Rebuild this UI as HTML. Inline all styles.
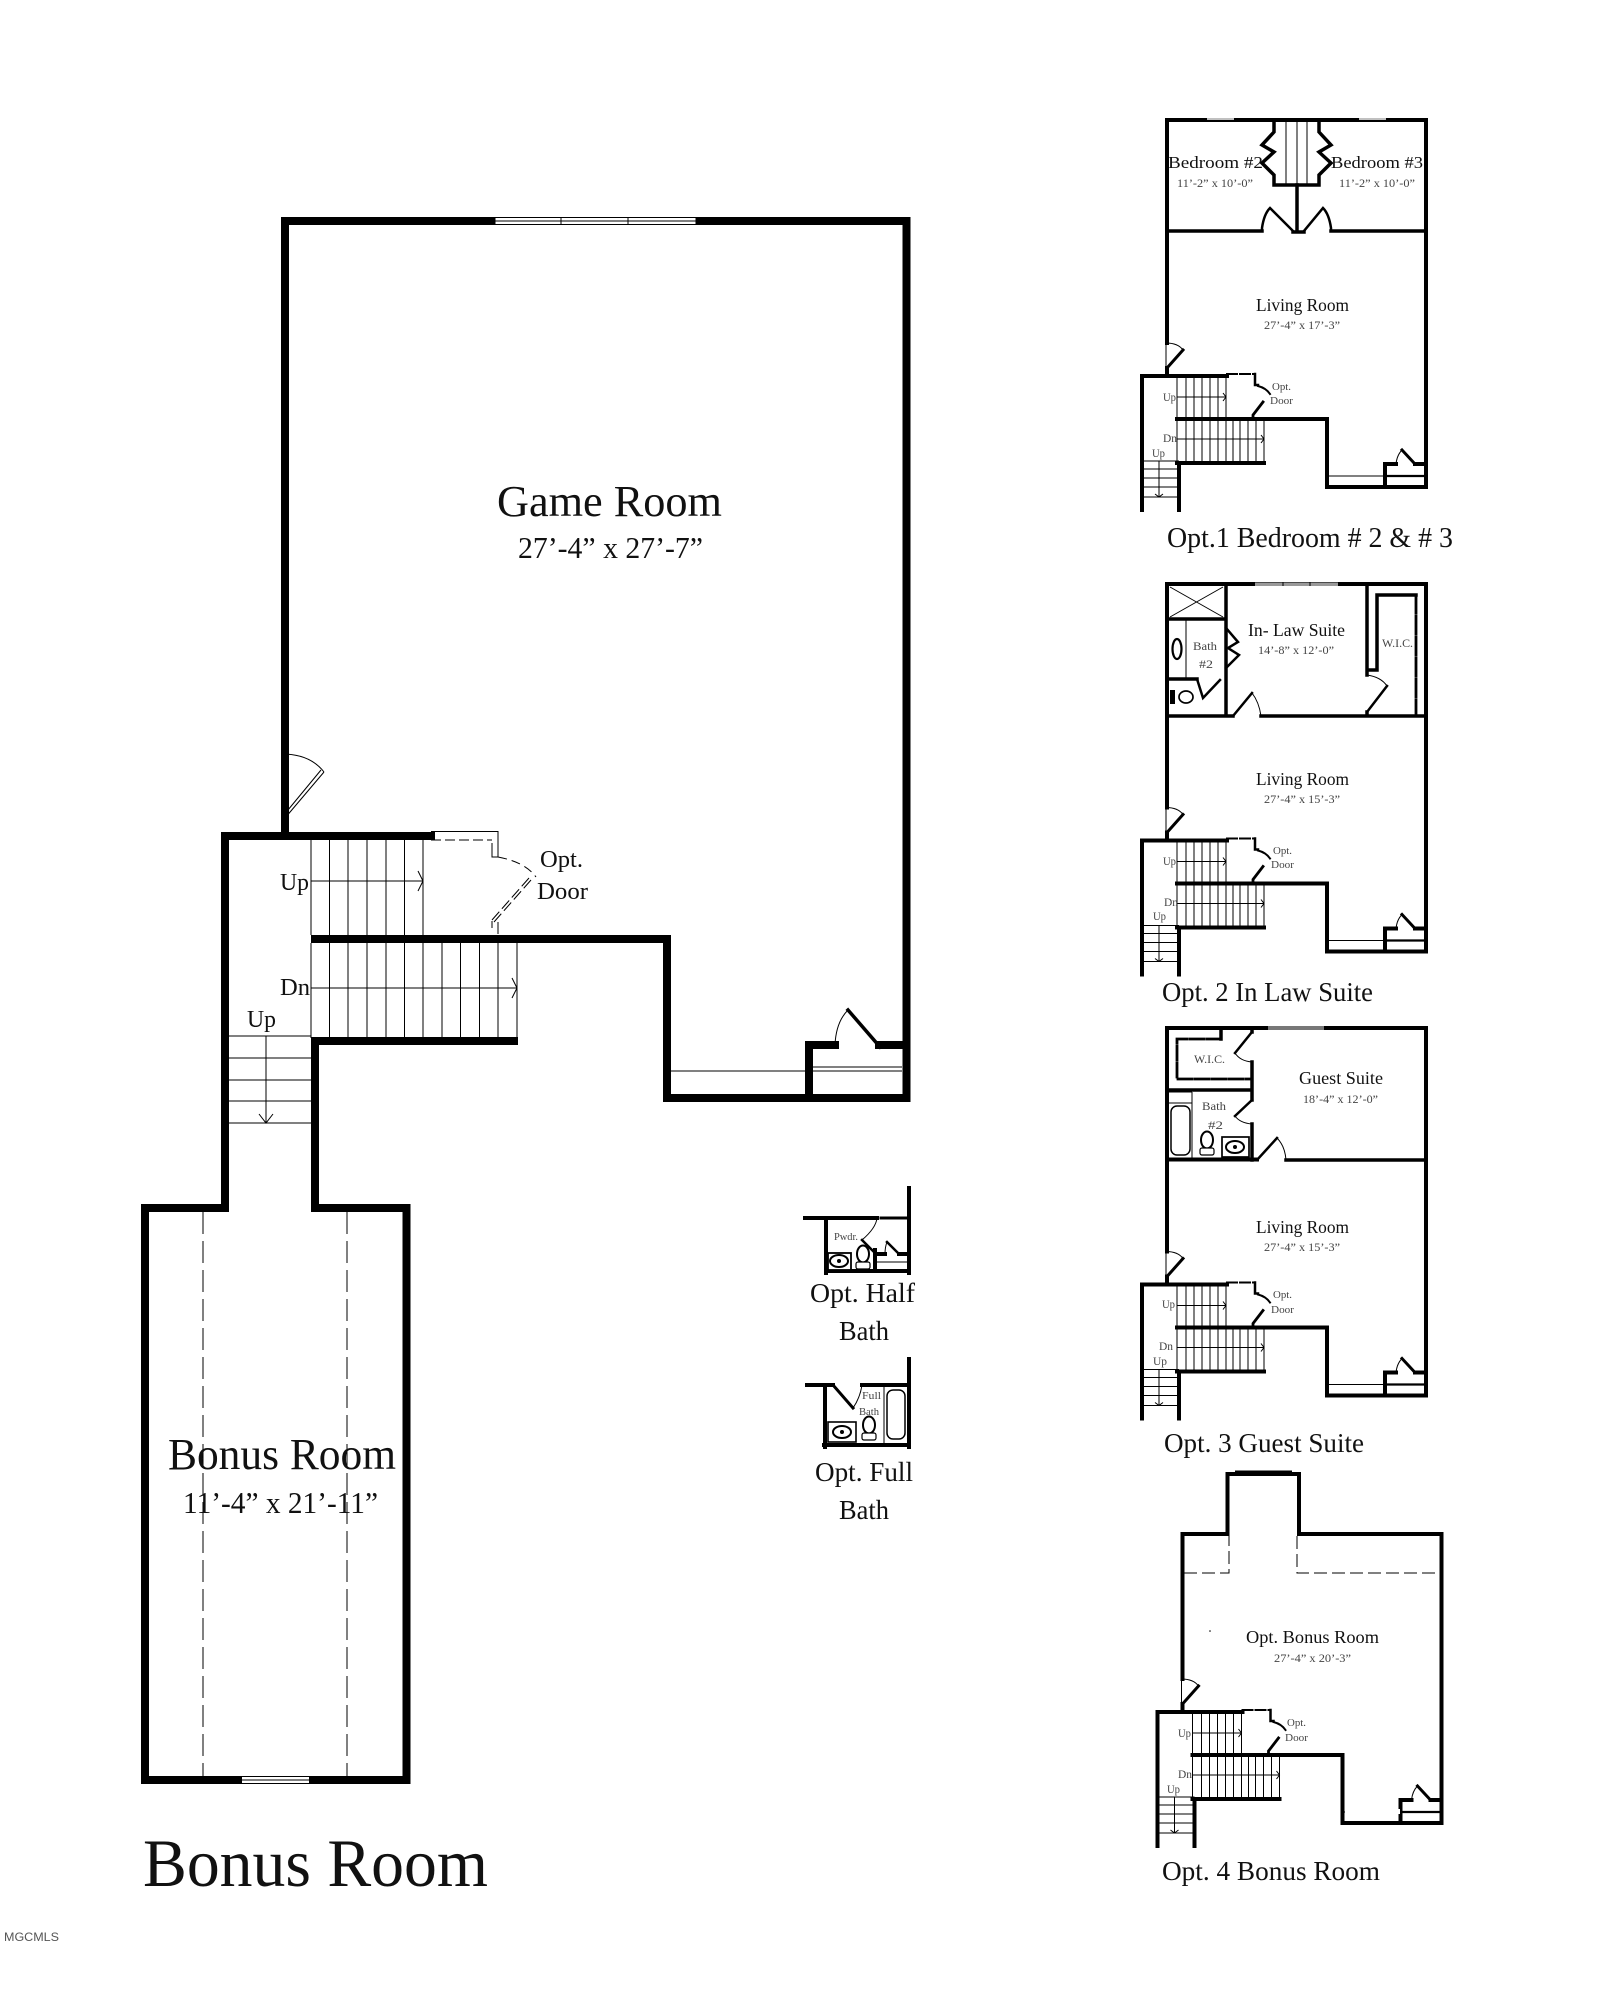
<!DOCTYPE html>
<html><head><meta charset="utf-8"><title>Bonus Room floor plan</title>
<style>
html,body{margin:0;padding:0;background:#fff}
svg{display:block}
text{font-family:"Liberation Serif",serif;fill:#111}
.w{fill:none;stroke:#000;stroke-linecap:square;stroke-linejoin:miter}
.t{fill:none;stroke:#000;stroke-width:1}
.g{fill:#444}
</style></head><body>
<svg width="1608" height="2000" viewBox="0 0 1608 2000" xmlns="http://www.w3.org/2000/svg">
<rect width="1608" height="2000" fill="#fff"/>
<defs>
<g id="b">
 <path class="w" stroke-width="4" d="M1167 368V376M1142 510V376H1227M1177 419H1327V487H1426M1177 463H1264M1179 463V510M1385 487V464H1396M1415 464H1426"/>
 <path class="w" stroke-width="3" stroke-linecap="butt" d="M1167 368L1183 350M1402 450L1415 464"/>
 <path class="t" stroke-width="1.300" d="M1166 343V368M1166 343Q1178 343 1183 350M1396 464Q1397 455 1402 450"/>
 <path class="t" stroke-width="1.500" d="M1177 378V419M1186 378V419M1194 378V419M1202 378V419M1210 378V419M1218 378V419M1226 378V419M1177 419V463M1186 419V463M1194 419V463M1202 419V463M1210 419V463M1218 419V463M1226 419V463M1233 419V463M1240 419V463M1248 419V463M1256 419V463M1264 419V463"/>
 <path class="t" stroke-width="1.500" d="M1177 397H1226M1223 393L1226 397L1223 401M1177 439H1264M1261 435L1264 439L1261 443M1159 461V497M1155 494L1159 497L1163 494"/>
 <path class="t" stroke-width="1.500" d="M1142 461H1179M1142 469H1179M1142 478H1179M1142 487H1179M1142 497H1179"/>
 <path class="t" stroke-width="1.500" d="M1327 476H1385"/>
 <path class="w" stroke-width="2.200" stroke-linecap="butt" d="M1385 476H1426"/>
 <path class="w" stroke-width="2" stroke-linecap="butt" stroke-dasharray="10 3" d="M1227 374H1255"/>
 <path class="w" stroke-width="2.500" stroke-linecap="butt" d="M1255 374V385H1258"/>
 <path class="w" stroke-width="2" stroke-linecap="butt" d="M1258 386Q1266 388 1270 394"/>
 <path class="w" stroke-width="2.800" stroke-linecap="butt" d="M1263 402L1253 415V418"/>
</g>
<g id="toilet">
 <ellipse cx="0" cy="-9" rx="6" ry="8.500" fill="#fff" stroke="#000" stroke-width="2"/>
 <rect x="-7" y="-1" width="14" height="7" rx="2" fill="#fff" stroke="#000" stroke-width="1.200"/>
</g>
<g id="sink">
 <ellipse cx="0" cy="0" rx="9" ry="6" fill="#fff" stroke="#000" stroke-width="2"/>
 <circle cx="0" cy="0" r="2" fill="#000"/>
</g>
</defs>

<!-- MAIN PLAN -->
<path class="w" stroke-width="8" d="M285 818V221H906.500V1098H667V939H315"/>
<path class="w" stroke-width="8" d="M285 818V836H225M225 836H431"/>
<path class="w" stroke-width="8" d="M225 836V1208H145V1780H406.500V1208H315V1041H514"/>
<path class="w" stroke-width="8" d="M809 1098V1045H835M879 1045H906.500"/>
<rect x="495" y="217" width="201" height="8" fill="#fff"/>
<path class="t" d="M495 217.500H696M495 221H696M495 224.500H696M495 217V225M561 217V225M628 217V225M696 217V225"/>
<rect x="242" y="1776" width="67" height="8" fill="#fff"/>
<path class="t" stroke-width="1.200" d="M242 1776.500H309M242 1780H309M242 1783.500H309"/>
<!-- door left -->
<path class="t" stroke-width="1.400" d="M282 754V818M282 754Q310 754 324 772"/>
<path class="t" stroke-width="1.300" d="M324 772L285 818M321 770L283 816"/>
<!-- closet door -->
<path class="t" stroke-width="1.300" d="M835 1045Q836 1022 848 1010"/>
<path class="w" stroke-width="3.500" stroke-linecap="butt" d="M848 1010L880 1047"/>
<path class="t" stroke-width="1.300" d="M670 1071H805M812 1067H902M812 1071H902"/>
<!-- stairs -->
<path class="t" stroke-width="1.300" d="M311 840V935M329.500 840V935M348 840V935M367 840V935M386 840V935M404.500 840V935M423 840V935M311 943V1038M329.500 943V1038M348 943V1038M367 943V1038M386 943V1038M404.500 943V1038M423 943V1038M442 943V1038M460.500 943V1038M479.500 943V1038M498 943V1038M517 943V1038"/>
<path class="t" stroke-width="1.600" d="M311 881H423M418 871L423 881L418 891M311 988H517M512 978L517 988L512 998"/>
<path class="t" stroke-width="1.300" d="M229 1036H311M229 1058H311M229 1080H311M229 1101H311M229 1123H311"/>
<path class="t" stroke-width="1.600" d="M266 1036V1123M259 1114L266 1123L273 1114"/>
<!-- opt door -->
<path class="t" stroke-width="1.800" d="M431 831.500H498V857"/>
<path class="t" stroke-width="2" stroke-dasharray="10 4" d="M431 840H492"/>
<path class="t" stroke-width="2.500" d="M492 843V857H498"/>
<path class="t" stroke-width="1.800" stroke-dasharray="9 5" d="M498 857Q525 862 536 877"/>
<path class="t" stroke-width="1.700" stroke-dasharray="11 4" d="M531 880L494 922M529 878L492 920"/>
<path class="t" stroke-width="2" d="M492 921V928M498 922V934"/>
<!-- bonus dashed -->
<path class="t" stroke-width="1.300" stroke-dasharray="22 7" d="M203 1212V1776M347 1212V1776"/>

<text x="497" y="516" font-size="44" textLength="225" lengthAdjust="spacingAndGlyphs">Game Room</text>
<text x="518" y="558" font-size="31" textLength="185" lengthAdjust="spacingAndGlyphs">27’-4” x 27’-7”</text>
<text x="540" y="867" font-size="24" textLength="43" lengthAdjust="spacingAndGlyphs">Opt.</text>
<text x="537" y="899" font-size="24" textLength="51" lengthAdjust="spacingAndGlyphs">Door</text>
<text x="280" y="890" font-size="24" textLength="29" lengthAdjust="spacingAndGlyphs">Up</text>
<text x="280" y="995" font-size="24" textLength="30" lengthAdjust="spacingAndGlyphs">Dn</text>
<text x="247" y="1027" font-size="24" textLength="29" lengthAdjust="spacingAndGlyphs">Up</text>
<text x="168" y="1469" font-size="44" textLength="228" lengthAdjust="spacingAndGlyphs">Bonus Room</text>
<text x="183" y="1513" font-size="31" textLength="195" lengthAdjust="spacingAndGlyphs">11’-4” x 21’-11”</text>
<text x="143" y="1886" font-size="68" textLength="345" lengthAdjust="spacingAndGlyphs">Bonus Room</text>
<text x="4" y="1941" font-size="12" textLength="55" lengthAdjust="spacingAndGlyphs" style="font-family:'Liberation Sans',sans-serif;fill:#555">MGCMLS</text>

<!-- HALF BATH -->
<path class="w" stroke-width="4" stroke-linecap="butt" d="M805 1218H877M909 1188V1273M826 1218V1273M826 1271H909M875 1250V1270M875 1254H885M899 1254H909"/>
<path class="w" stroke-width="3" stroke-linecap="butt" stroke-dasharray="9 3" d="M881 1218H908"/>
<path class="t" stroke-width="2" d="M877 1218Q876 1228 862 1240"/>
<path class="w" stroke-width="2.500" stroke-linecap="butt" d="M862 1240L875 1253"/>
<path class="t" stroke-width="1.600" d="M885 1254Q885 1247 887 1242"/>
<path class="w" stroke-width="2.500" stroke-linecap="butt" d="M887 1242L899 1254"/>
<path class="t" stroke-width="1.600" d="M876 1262H908"/>
<rect x="828" y="1253" width="23" height="17" fill="#fff" stroke="#000" stroke-width="1.800"/>
<use href="#sink" x="839" y="1261"/>
<use href="#toilet" x="863" y="1263"/>
<text x="834" y="1240" font-size="10" textLength="24" lengthAdjust="spacingAndGlyphs" class="g">Pwdr.</text>
<text x="810" y="1302" font-size="27" textLength="105" lengthAdjust="spacingAndGlyphs">Opt. Half</text>
<text x="839" y="1340" font-size="27" textLength="50" lengthAdjust="spacingAndGlyphs">Bath</text>

<!-- FULL BATH -->
<g transform="translate(0 2)">
<path class="w" stroke-width="4" stroke-linecap="butt" d="M807 1383H833M862 1383H909M909 1357V1445M825 1383V1445M824 1443H909"/>
<path class="w" stroke-width="3" stroke-linecap="butt" d="M833 1383L853 1406"/>
<path class="t" stroke-width="1.600" d="M853 1406Q860 1396 862 1383M884 1384V1442"/>
<rect x="887" y="1388" width="18" height="49" rx="6" fill="#fff" stroke="#000" stroke-width="1.500"/>
<rect x="828" y="1420" width="28" height="20" fill="#fff" stroke="#000" stroke-width="1.600"/>
<use href="#sink" x="842" y="1430"/>
<use href="#toilet" x="869" y="1432"/>
<text x="862" y="1397" font-size="11" textLength="19" lengthAdjust="spacingAndGlyphs" class="g">Full</text>
<text x="859" y="1413" font-size="11" textLength="20" lengthAdjust="spacingAndGlyphs" class="g">Bath</text>
</g>
<text x="815" y="1481" font-size="27" textLength="98" lengthAdjust="spacingAndGlyphs">Opt. Full</text>
<text x="839" y="1519" font-size="27" textLength="50" lengthAdjust="spacingAndGlyphs">Bath</text>

<!-- OPT 1 -->
<use href="#b"/>
<path class="w" stroke-width="4" d="M1167 343V120H1426V487"/>
<path d="M1207 119H1234M1359 119H1386" stroke="#fff" stroke-width="1.500"/>
<path class="w" stroke-width="3.500" d="M1167 231H1262M1331 231H1426"/>
<path class="w" stroke-width="3.500" stroke-linecap="butt" d="M1293 232H1304M1297 185V231"/>
<path class="w" stroke-width="2.500" stroke-linecap="butt" d="M1262 231L1262 228Q1264 214 1270 208L1293 231M1331 231L1331 228Q1329 214 1323 208L1304 231"/>
<path class="w" stroke-width="3.500" stroke-linecap="butt" d="M1274 120V132L1262 145L1274 152L1262 163L1274 175V185H1319V175L1331 163L1319 152L1331 145L1319 132V120"/>
<path class="t" stroke-width="1.600" d="M1286 122V184M1297 122V184M1307 122V184"/>
<text x="1168" y="168" font-size="17" textLength="95" lengthAdjust="spacingAndGlyphs">Bedroom #2</text>
<text x="1177" y="187" font-size="12" textLength="76" lengthAdjust="spacingAndGlyphs" class="g">11’-2” x 10’-0”</text>
<text x="1331" y="168" font-size="17" textLength="92" lengthAdjust="spacingAndGlyphs">Bedroom #3</text>
<text x="1339" y="187" font-size="12" textLength="76" lengthAdjust="spacingAndGlyphs" class="g">11’-2” x 10’-0”</text>
<text x="1256" y="311" font-size="18" textLength="93" lengthAdjust="spacingAndGlyphs">Living Room</text>
<text x="1264" y="329" font-size="12" textLength="76" lengthAdjust="spacingAndGlyphs" class="g">27’-4” x 17’-3”</text>
<text x="1163" y="401" font-size="12" textLength="13" lengthAdjust="spacingAndGlyphs" class="g">Up</text>
<text x="1163" y="442" font-size="12" textLength="14" lengthAdjust="spacingAndGlyphs" class="g">Dn</text>
<text x="1152" y="457" font-size="12" textLength="13" lengthAdjust="spacingAndGlyphs" class="g">Up</text>
<text x="1272" y="390" font-size="11" textLength="19" lengthAdjust="spacingAndGlyphs" class="g">Opt.</text>
<text x="1270" y="404" font-size="11" textLength="23" lengthAdjust="spacingAndGlyphs" class="g">Door</text>
<text x="1167" y="547" font-size="28" textLength="286" lengthAdjust="spacingAndGlyphs">Opt.1 Bedroom # 2 &amp; # 3</text>

<!-- OPT 2 -->
<use href="#b" y="464.500"/>
<path class="w" stroke-width="4" d="M1167 807.500V584H1426V951.500"/>
<rect x="1255" y="582.500" width="83" height="3.500" fill="#999"/>
<path d="M1283 582V586M1310 582V586" stroke="#000" stroke-width="1"/>
<path class="w" stroke-width="3.500" d="M1226 584V716M1167 619H1226M1167 679H1197M1167 716H1233M1261 716H1426M1367 584V670H1377V595H1416M1367 675V670M1367 712V716"/>
<path class="w" stroke-width="2.800" stroke-dasharray="18 3" stroke-linecap="butt" d="M1416 595V716"/>
<path class="t" stroke-width="1.200" d="M1170 587L1223 617M1223 587L1170 617M1186 620V678"/>
<path class="w" stroke-width="2.500" stroke-linecap="butt" d="M1226 628L1238 642L1228 648L1239 655L1226 668M1197 679L1203 698L1220 680M1233 716L1252 693M1387 686L1367 712"/>
<path class="t" stroke-width="1.500" d="M1252 693Q1259 702 1261 716M1367 675Q1381 677 1387 686"/>
<ellipse cx="1177" cy="649" rx="4.500" ry="10" fill="#fff" stroke="#000" stroke-width="2.200"/>
<ellipse cx="1186" cy="697" rx="7" ry="6" fill="#fff" stroke="#000" stroke-width="1.700"/>
<rect x="1170" y="690" width="5" height="14" fill="#000"/>
<text x="1248" y="636" font-size="18" textLength="97" lengthAdjust="spacingAndGlyphs">In- Law Suite</text>
<text x="1258" y="654" font-size="12" textLength="76" lengthAdjust="spacingAndGlyphs" class="g">14’-8” x 12’-0”</text>
<text x="1193" y="650" font-size="12" textLength="24" lengthAdjust="spacingAndGlyphs" class="g">Bath</text>
<text x="1199" y="668" font-size="12" textLength="14" lengthAdjust="spacingAndGlyphs" class="g">#2</text>
<text x="1382" y="647" font-size="12" textLength="31" lengthAdjust="spacingAndGlyphs" class="g">W.I.C.</text>
<text x="1256" y="785" font-size="18" textLength="93" lengthAdjust="spacingAndGlyphs">Living Room</text>
<text x="1264" y="803" font-size="12" textLength="76" lengthAdjust="spacingAndGlyphs" class="g">27’-4” x 15’-3”</text>
<text x="1163" y="865" font-size="12" textLength="13" lengthAdjust="spacingAndGlyphs" class="g">Up</text>
<text x="1164" y="906" font-size="12" textLength="14" lengthAdjust="spacingAndGlyphs" class="g">Dn</text>
<text x="1153" y="920" font-size="12" textLength="13" lengthAdjust="spacingAndGlyphs" class="g">Up</text>
<text x="1273" y="854" font-size="11" textLength="19" lengthAdjust="spacingAndGlyphs" class="g">Opt.</text>
<text x="1271" y="868" font-size="11" textLength="23" lengthAdjust="spacingAndGlyphs" class="g">Door</text>
<text x="1162" y="1001" font-size="27" textLength="211" lengthAdjust="spacingAndGlyphs">Opt. 2 In Law Suite</text>

<!-- OPT 3 -->
<use href="#b" y="908.500"/>
<path class="w" stroke-width="4" d="M1167 1251.500V1028H1426V1395.500"/>
<rect x="1268" y="1026" width="56" height="4" fill="#777"/>
<path class="w" stroke-width="3.500" d="M1167 1090H1252M1252 1028V1032M1252 1062V1100M1252 1124V1160M1286 1160H1426M1221 1029V1039"/>
<path class="w" stroke-width="4" stroke-linecap="butt" d="M1167 1159.500H1257"/>
<path class="w" stroke-width="2.800" stroke-dasharray="14 3" stroke-linecap="butt" d="M1221 1039H1177V1079H1250"/>
<path class="w" stroke-width="2.500" stroke-linecap="butt" d="M1252 1032L1235 1053M1252 1100L1235 1116M1257 1160L1277 1138"/>
<path class="t" stroke-width="1.600" d="M1235 1053Q1240 1061 1252 1062M1235 1116Q1240 1123 1252 1124M1277 1138Q1285 1146 1286 1160"/>
<path class="t" stroke-width="1.200" d="M1169 1103H1192M1192 1092V1158M1169 1092H1192"/>
<rect x="1171" y="1106" width="19" height="49" rx="6" fill="#fff" stroke="#000" stroke-width="1.500"/>
<use href="#toilet" x="1207" y="1149"/>
<rect x="1222" y="1137" width="27" height="20" fill="#fff" stroke="#000" stroke-width="1.700"/>
<use href="#sink" x="1235" y="1147"/>
<text x="1194" y="1063" font-size="12" textLength="31" lengthAdjust="spacingAndGlyphs" class="g">W.I.C.</text>
<text x="1202" y="1110" font-size="12" textLength="24" lengthAdjust="spacingAndGlyphs" class="g">Bath</text>
<text x="1208" y="1129" font-size="12" textLength="15" lengthAdjust="spacingAndGlyphs" class="g">#2</text>
<text x="1299" y="1084" font-size="18" textLength="84" lengthAdjust="spacingAndGlyphs">Guest Suite</text>
<text x="1303" y="1103" font-size="12" textLength="75" lengthAdjust="spacingAndGlyphs" class="g">18’-4” x 12’-0”</text>
<text x="1256" y="1233" font-size="18" textLength="93" lengthAdjust="spacingAndGlyphs">Living Room</text>
<text x="1264" y="1251" font-size="12" textLength="76" lengthAdjust="spacingAndGlyphs" class="g">27’-4” x 15’-3”</text>
<text x="1162" y="1308" font-size="12" textLength="13" lengthAdjust="spacingAndGlyphs" class="g">Up</text>
<text x="1159" y="1350" font-size="12" textLength="14" lengthAdjust="spacingAndGlyphs" class="g">Dn</text>
<text x="1153" y="1365" font-size="12" textLength="14" lengthAdjust="spacingAndGlyphs" class="g">Up</text>
<text x="1273" y="1298" font-size="11" textLength="19" lengthAdjust="spacingAndGlyphs" class="g">Opt.</text>
<text x="1271" y="1313" font-size="11" textLength="23" lengthAdjust="spacingAndGlyphs" class="g">Door</text>
<text x="1164" y="1452" font-size="27" textLength="200" lengthAdjust="spacingAndGlyphs">Opt. 3 Guest Suite</text>

<!-- OPT 4 -->
<use href="#b" x="15.500" y="1336"/>
<rect x="1345" y="1809" width="55" height="5" fill="#fff"/>
<path class="w" stroke-width="4" d="M1182.500 1679V1534H1227.500V1474H1299V1534H1441.500V1823"/>
<path d="M1235 1473H1292" stroke="#000" stroke-width="5"/>
<path class="t" stroke-width="1.400" stroke-dasharray="13 5" d="M1184 1573H1229V1536M1297 1536V1573H1441"/>
<circle cx="1210" cy="1631" r="0.800" fill="#000"/>
<text x="1246" y="1643" font-size="18" textLength="133" lengthAdjust="spacingAndGlyphs">Opt. Bonus Room</text>
<text x="1274" y="1662" font-size="12" textLength="77" lengthAdjust="spacingAndGlyphs" class="g">27’-4” x 20’-3”</text>
<text x="1178" y="1737" font-size="12" textLength="13" lengthAdjust="spacingAndGlyphs" class="g">Up</text>
<text x="1178" y="1778" font-size="12" textLength="14" lengthAdjust="spacingAndGlyphs" class="g">Dn</text>
<text x="1167" y="1793" font-size="12" textLength="13" lengthAdjust="spacingAndGlyphs" class="g">Up</text>
<text x="1287" y="1726" font-size="11" textLength="19" lengthAdjust="spacingAndGlyphs" class="g">Opt.</text>
<text x="1285" y="1741" font-size="11" textLength="23" lengthAdjust="spacingAndGlyphs" class="g">Door</text>
<text x="1162" y="1880" font-size="27" textLength="218" lengthAdjust="spacingAndGlyphs">Opt. 4 Bonus Room</text>
</svg>
</body></html>
